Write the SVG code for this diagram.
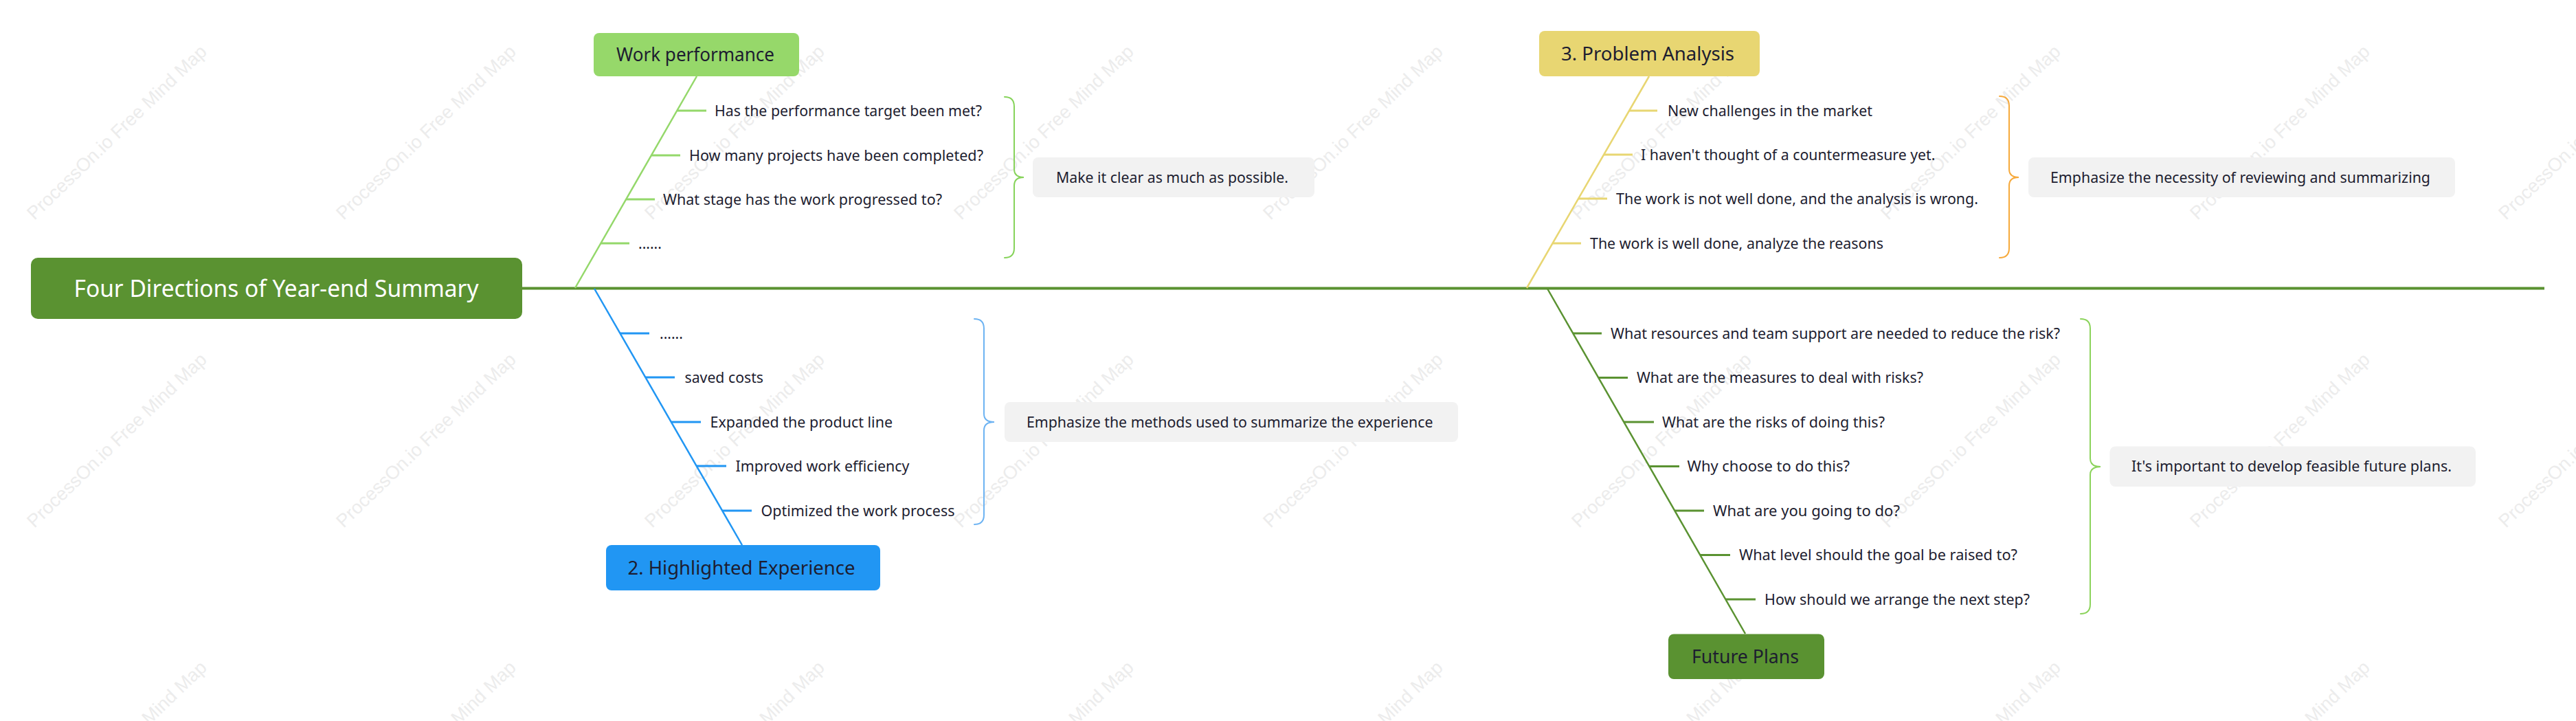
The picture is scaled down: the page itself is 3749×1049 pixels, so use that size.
<svg xmlns="http://www.w3.org/2000/svg" width="3749" height="1049" viewBox="0 0 3749 1049">
<style>
.wm{font-family:"Liberation Sans",Arial,sans-serif;font-size:27px;fill:#ececec}
.t{font-family:"Noto Sans","Open Sans",sans-serif;font-size:21px;fill:#1d1d30}
.b{font-family:"Noto Sans","Open Sans",sans-serif;font-size:28px;fill:#1d1d30;text-anchor:middle}
.root{font-family:"Noto Sans","Open Sans",sans-serif;font-size:34px;fill:#ffffff;text-anchor:middle}
.sum{fill:#f2f2f2}
.tk{stroke-width:3;fill:none}
.br{stroke-width:2.5;fill:none}
.brace{stroke-width:2;fill:none;stroke-linecap:round}
.lg{stroke:#94d86a}
.bl{stroke:#2196f3}
.yl{stroke:#e8d672}
.dg{stroke:#5a9231}
</style>
<rect width="3749" height="1049" fill="#ffffff"/>
<g id="watermarks">
<text class="wm" transform="translate(50,321) rotate(-44)">ProcessOn.io Free Mind Map</text>
<text class="wm" transform="translate(500,321) rotate(-44)">ProcessOn.io Free Mind Map</text>
<text class="wm" transform="translate(949,321) rotate(-44)">ProcessOn.io Free Mind Map</text>
<text class="wm" transform="translate(1399,321) rotate(-44)">ProcessOn.io Free Mind Map</text>
<text class="wm" transform="translate(1849,321) rotate(-44)">ProcessOn.io Free Mind Map</text>
<text class="wm" transform="translate(2298,321) rotate(-44)">ProcessOn.io Free Mind Map</text>
<text class="wm" transform="translate(2748,321) rotate(-44)">ProcessOn.io Free Mind Map</text>
<text class="wm" transform="translate(3198,321) rotate(-44)">ProcessOn.io Free Mind Map</text>
<text class="wm" transform="translate(3647,321) rotate(-44)">ProcessOn.io Free Mind Map</text>
<text class="wm" transform="translate(50,769) rotate(-44)">ProcessOn.io Free Mind Map</text>
<text class="wm" transform="translate(500,769) rotate(-44)">ProcessOn.io Free Mind Map</text>
<text class="wm" transform="translate(949,769) rotate(-44)">ProcessOn.io Free Mind Map</text>
<text class="wm" transform="translate(1399,769) rotate(-44)">ProcessOn.io Free Mind Map</text>
<text class="wm" transform="translate(1849,769) rotate(-44)">ProcessOn.io Free Mind Map</text>
<text class="wm" transform="translate(2298,769) rotate(-44)">ProcessOn.io Free Mind Map</text>
<text class="wm" transform="translate(2748,769) rotate(-44)">ProcessOn.io Free Mind Map</text>
<text class="wm" transform="translate(3198,769) rotate(-44)">ProcessOn.io Free Mind Map</text>
<text class="wm" transform="translate(3647,769) rotate(-44)">ProcessOn.io Free Mind Map</text>
<text class="wm" transform="translate(50,1217) rotate(-44)">ProcessOn.io Free Mind Map</text>
<text class="wm" transform="translate(500,1217) rotate(-44)">ProcessOn.io Free Mind Map</text>
<text class="wm" transform="translate(949,1217) rotate(-44)">ProcessOn.io Free Mind Map</text>
<text class="wm" transform="translate(1399,1217) rotate(-44)">ProcessOn.io Free Mind Map</text>
<text class="wm" transform="translate(1849,1217) rotate(-44)">ProcessOn.io Free Mind Map</text>
<text class="wm" transform="translate(2298,1217) rotate(-44)">ProcessOn.io Free Mind Map</text>
<text class="wm" transform="translate(2748,1217) rotate(-44)">ProcessOn.io Free Mind Map</text>
<text class="wm" transform="translate(3198,1217) rotate(-44)">ProcessOn.io Free Mind Map</text>
<text class="wm" transform="translate(3647,1217) rotate(-44)">ProcessOn.io Free Mind Map</text>
</g>
<g id="connectors">
<line x1="760" y1="419.5" x2="3703" y2="419.5" stroke="#5a9231" stroke-width="4"/>
<line class="br lg" x1="1014" y1="111" x2="837" y2="419"/>
<line class="tk lg" x1="986" y1="161" x2="1028" y2="161"/>
<line class="tk lg" x1="948" y1="226" x2="990" y2="226"/>
<line class="tk lg" x1="911" y1="290" x2="953" y2="290"/>
<line class="tk lg" x1="874" y1="354" x2="916" y2="354"/>
<path class="brace" stroke="#86d35a" d="M1462,141 Q1476,141 1476,155 L1476,246 Q1476,258 1490,258 Q1476,258 1476,270 L1476,361 Q1476,375 1462,375"/>
<line class="br bl" x1="865" y1="420" x2="1080" y2="793"/>
<line class="tk bl" x1="902" y1="485" x2="945" y2="485"/>
<line class="tk bl" x1="939" y1="549" x2="982" y2="549"/>
<line class="tk bl" x1="977" y1="614" x2="1020" y2="614"/>
<line class="tk bl" x1="1014" y1="678" x2="1057" y2="678"/>
<line class="tk bl" x1="1051" y1="743" x2="1094" y2="743"/>
<path class="brace" stroke="#6db3f2" d="M1418,464 Q1432,464 1432,478 L1432,602 Q1432,614 1447,614 Q1432,614 1432,626 L1432,749 Q1432,763 1418,763"/>
<line class="br yl" x1="2400" y1="111" x2="2222" y2="419"/>
<line class="tk yl" x1="2371" y1="161" x2="2412" y2="161"/>
<line class="tk yl" x1="2334" y1="225" x2="2376" y2="225"/>
<line class="tk yl" x1="2297" y1="289" x2="2339" y2="289"/>
<line class="tk yl" x1="2259" y1="354" x2="2301" y2="354"/>
<path class="brace" stroke="#f6a93b" d="M2910,140 Q2924,140 2924,154 L2924,246 Q2924,258 2938,258 Q2924,258 2924,270 L2924,361 Q2924,375 2910,375"/>
<line class="br dg" x1="2252" y1="420" x2="2540" y2="922"/>
<line class="tk dg" x1="2289" y1="485" x2="2331" y2="485"/>
<line class="tk dg" x1="2326" y1="549.5" x2="2369" y2="549.5"/>
<line class="tk dg" x1="2363" y1="614" x2="2407" y2="614"/>
<line class="tk dg" x1="2400" y1="678.5" x2="2444" y2="678.5"/>
<line class="tk dg" x1="2437" y1="743" x2="2480" y2="743"/>
<line class="tk dg" x1="2474" y1="807.5" x2="2518" y2="807.5"/>
<line class="tk dg" x1="2511" y1="872" x2="2555" y2="872"/>
<path class="brace" stroke="#8bd35b" d="M3028,464 Q3042,464 3042,478 L3042,667 Q3042,679 3057,679 Q3042,679 3042,691 L3042,879 Q3042,893 3028,893"/>
</g>
<g id="root">
<rect x="45" y="375" width="715" height="89" rx="10" fill="#5a9231"/>
<text class="root" x="402" y="432" textLength="589" lengthAdjust="spacingAndGlyphs">Four Directions of Year-end Summary</text>
</g>
<g id="work-performance">
<rect x="864" y="48" width="299" height="63" rx="8" fill="#96d86a"/>
<text class="b" x="1012" y="89" textLength="230" lengthAdjust="spacingAndGlyphs">Work performance</text>
</g>
<g id="wp-1"><text class="t" x="1040" y="168.5" textLength="389" lengthAdjust="spacingAndGlyphs">Has the performance target been met?</text></g>
<g id="wp-2"><text class="t" x="1003" y="233.5" textLength="428" lengthAdjust="spacingAndGlyphs">How many projects have been completed?</text></g>
<g id="wp-3"><text class="t" x="965" y="297.5" textLength="406" lengthAdjust="spacingAndGlyphs">What stage has the work progressed to?</text></g>
<g id="wp-4"><text class="t" x="929" y="361.5">......</text></g>
<g id="wp-summary">
<rect class="sum" x="1503" y="229" width="410" height="58" rx="8"/>
<text class="t" x="1537" y="265.5" textLength="338" lengthAdjust="spacingAndGlyphs">Make it clear as much as possible.</text>
</g>
<g id="highlighted-experience">
<rect x="882" y="793" width="399" height="66" rx="8" fill="#2196f3"/>
<text class="b" x="1079" y="836" textLength="331" lengthAdjust="spacingAndGlyphs">2. Highlighted Experience</text>
</g>
<g id="he-1"><text class="t" x="960" y="492.5">......</text></g>
<g id="he-2"><text class="t" x="996.5" y="556.5" textLength="114.5" lengthAdjust="spacingAndGlyphs">saved costs</text></g>
<g id="he-3"><text class="t" x="1033.5" y="621.5" textLength="265.5" lengthAdjust="spacingAndGlyphs">Expanded the product line</text></g>
<g id="he-4"><text class="t" x="1070.5" y="685.5" textLength="253" lengthAdjust="spacingAndGlyphs">Improved work efficiency</text></g>
<g id="he-5"><text class="t" x="1107.5" y="750.5" textLength="282" lengthAdjust="spacingAndGlyphs">Optimized the work process</text></g>
<g id="he-summary">
<rect class="sum" x="1462" y="585" width="660" height="58" rx="8"/>
<text class="t" x="1494" y="621.5" textLength="591.5" lengthAdjust="spacingAndGlyphs">Emphasize the methods used to summarize the experience</text>
</g>
<g id="problem-analysis">
<rect x="2240" y="45" width="321" height="66" rx="8" fill="#e8d672"/>
<text class="b" x="2398" y="88" textLength="252" lengthAdjust="spacingAndGlyphs">3. Problem Analysis</text>
</g>
<g id="pa-1"><text class="t" x="2427" y="168.5" textLength="298" lengthAdjust="spacingAndGlyphs">New challenges in the market</text></g>
<g id="pa-2"><text class="t" x="2388" y="232.5" textLength="428.5" lengthAdjust="spacingAndGlyphs">I haven't thought of a countermeasure yet.</text></g>
<g id="pa-3"><text class="t" x="2352" y="296.5" textLength="527" lengthAdjust="spacingAndGlyphs">The work is not well done, and the analysis is wrong.</text></g>
<g id="pa-4"><text class="t" x="2314" y="361.5" textLength="427" lengthAdjust="spacingAndGlyphs">The work is well done, analyze the reasons</text></g>
<g id="pa-summary">
<rect class="sum" x="2952" y="229" width="621" height="58" rx="8"/>
<text class="t" x="2984" y="265.5" textLength="553" lengthAdjust="spacingAndGlyphs">Emphasize the necessity of reviewing and summarizing</text>
</g>
<g id="future-plans">
<rect x="2428" y="922.5" width="227" height="65.5" rx="8" fill="#5a9231"/>
<text class="b" x="2540" y="965" textLength="156" lengthAdjust="spacingAndGlyphs">Future Plans</text>
</g>
<g id="fp-1"><text class="t" x="2344" y="492.5" textLength="654" lengthAdjust="spacingAndGlyphs">What resources and team support are needed to reduce the risk?</text></g>
<g id="fp-2"><text class="t" x="2382" y="557" textLength="417" lengthAdjust="spacingAndGlyphs">What are the measures to deal with risks?</text></g>
<g id="fp-3"><text class="t" x="2419" y="621.5" textLength="324" lengthAdjust="spacingAndGlyphs">What are the risks of doing this?</text></g>
<g id="fp-4"><text class="t" x="2455.5" y="686" textLength="236.5" lengthAdjust="spacingAndGlyphs">Why choose to do this?</text></g>
<g id="fp-5"><text class="t" x="2493" y="750.5" textLength="272" lengthAdjust="spacingAndGlyphs">What are you going to do?</text></g>
<g id="fp-6"><text class="t" x="2531" y="815" textLength="405" lengthAdjust="spacingAndGlyphs">What level should the goal be raised to?</text></g>
<g id="fp-7"><text class="t" x="2568" y="879.5" textLength="386" lengthAdjust="spacingAndGlyphs">How should we arrange the next step?</text></g>
<g id="fp-summary">
<rect class="sum" x="3070.5" y="649.5" width="532.5" height="58.5" rx="8"/>
<text class="t" x="3102" y="686" textLength="466" lengthAdjust="spacingAndGlyphs">It's important to develop feasible future plans.</text>
</g>
</svg>
